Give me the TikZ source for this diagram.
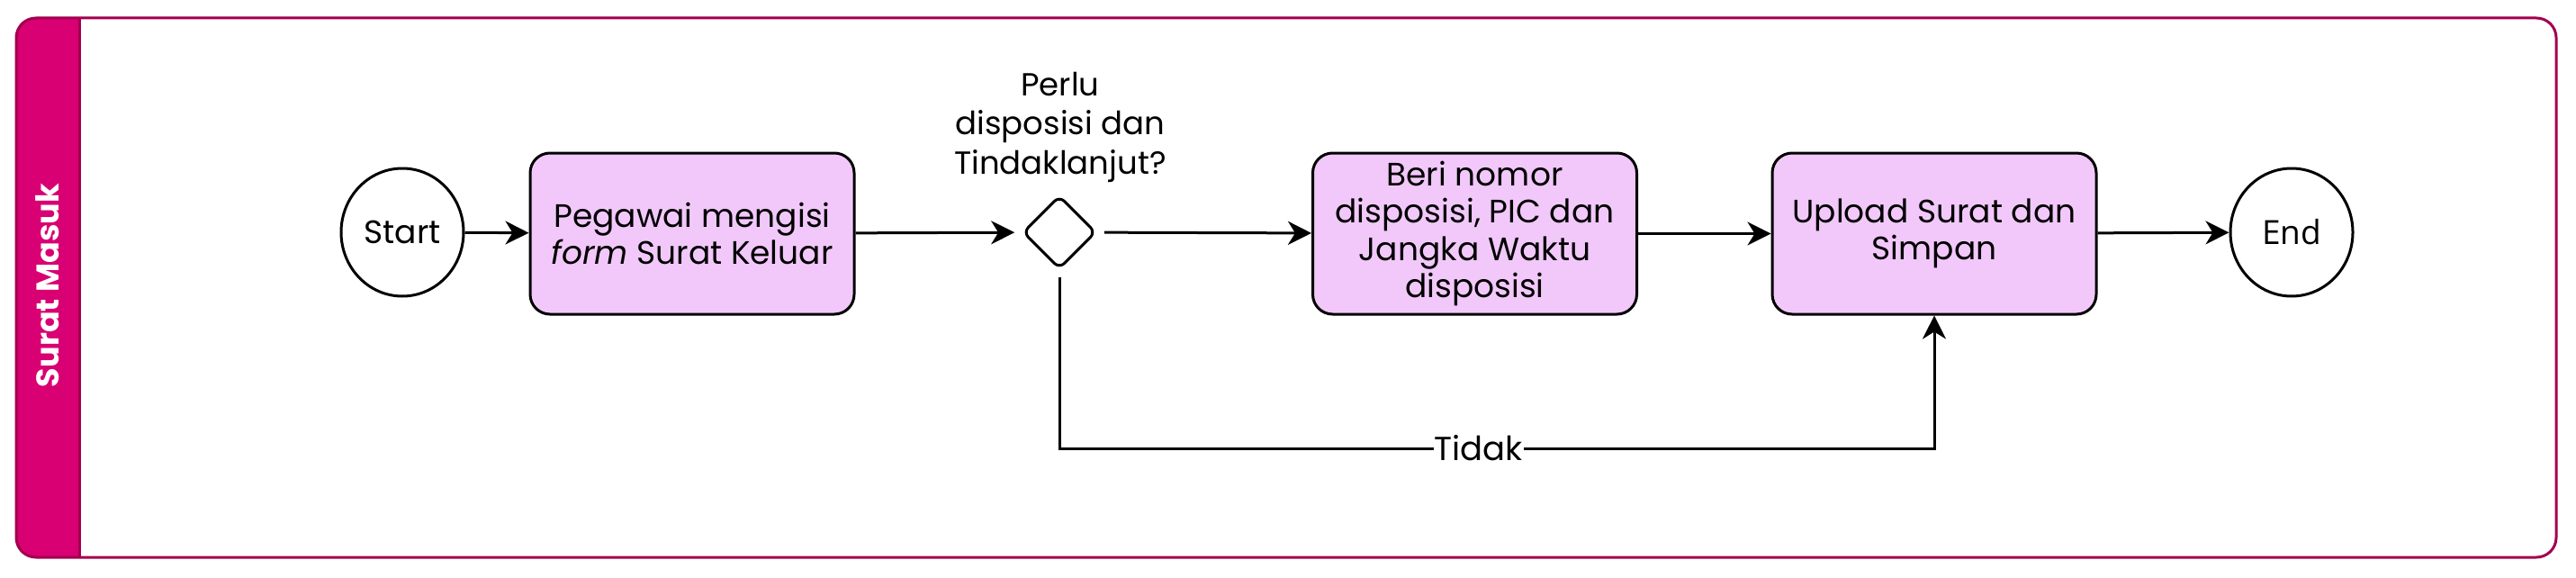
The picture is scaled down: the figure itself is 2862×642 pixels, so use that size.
\documentclass[tikz,border=0pt]{standalone}
\usepackage{fontspec}
\setmainfont{Poppins}
\newfontfamily\endfont{Open Sans}
\usetikzlibrary{arrows.meta,shapes.geometric}
\definecolor{lanefill}{HTML}{D80073}
\definecolor{laneline}{HTML}{A3004E}
\definecolor{taskfill}{HTML}{F2C8FA}
\begin{document}
\begin{tikzpicture}[x=1pt,y=-1pt,
  txt/.style={font=\fontsize{36}{41.5}\selectfont},
  qtxt/.style={font=\fontsize{35.5}{43.5}\selectfont},
  event/.style={draw, line width=3pt, ellipse, minimum width=136pt, minimum height=142pt, inner sep=0pt, fill=white, txt},
  task/.style={draw, line width=3pt, rounded corners=22pt, fill=taskfill, minimum width=360pt, minimum height=179pt, align=center, txt, inner sep=0pt},
  gate/.style={draw, line width=3pt, diamond, rounded corners=8pt, minimum width=86pt, minimum height=86pt, inner sep=0pt, outer sep=7pt, fill=white},
  flow/.style={line width=3pt, -{Stealth[length=26pt,width=26pt,inset=8pt]}},
  lbl/.style={font=\fontsize{37}{40}\selectfont, fill=white, inner sep=1pt},
]
\useasboundingbox (0,0) rectangle (2862,642);
% pool and lane band
\begin{scope}
  \clip (0,0) rectangle (88,642);
  \fill[lanefill, rounded corners=22pt] (18,20) rectangle (2840,619);
\end{scope}
\draw[laneline, line width=3pt, rounded corners=22pt] (18,20) rectangle (2840,619);
\draw[laneline, line width=3pt] (88,20) -- (88,619);
\node[rotate=90, text=white, font=\bfseries\fontsize{35}{40}\selectfont] (lane) at (53,317) {Surat Masuk};

% nodes
\node[event] (start) at (447,258) {Start};
\node[task] (t1) at (769,259.5) {Pegawai mengisi\\\textit{form} Surat Keluar};
\node[gate] (gw) at (1177,258) {};
\node[qtxt, align=center] (q) at (1178,141) {Perlu\\disposisi dan\\Tindaklanjut?};
\node[task] (t2) at (1638.5,259.5) {Beri nomor\\disposisi, PIC dan\\Jangka Waktu\\disposisi};
\node[task] (t3) at (2149,259.5) {Upload Surat dan\\Simpan};
\node[event, font=\endfont\fontsize{37}{40}\selectfont] (end) at (2546,258) {End};

% flows
\draw[flow] (start) -- (t1);
\draw[flow] (t1) -- (gw);
\draw[flow] (gw) -- (t2);
\draw[flow] (t2) -- (t3);
\draw[flow] (t3) -- (end);
\draw[flow] (gw.south) -- (gw.south |- 0,498) -- node[lbl, pos=0.479] {Tidak} (t3.south |- 0,498) -- (t3.south);
\end{tikzpicture}
\end{document}
